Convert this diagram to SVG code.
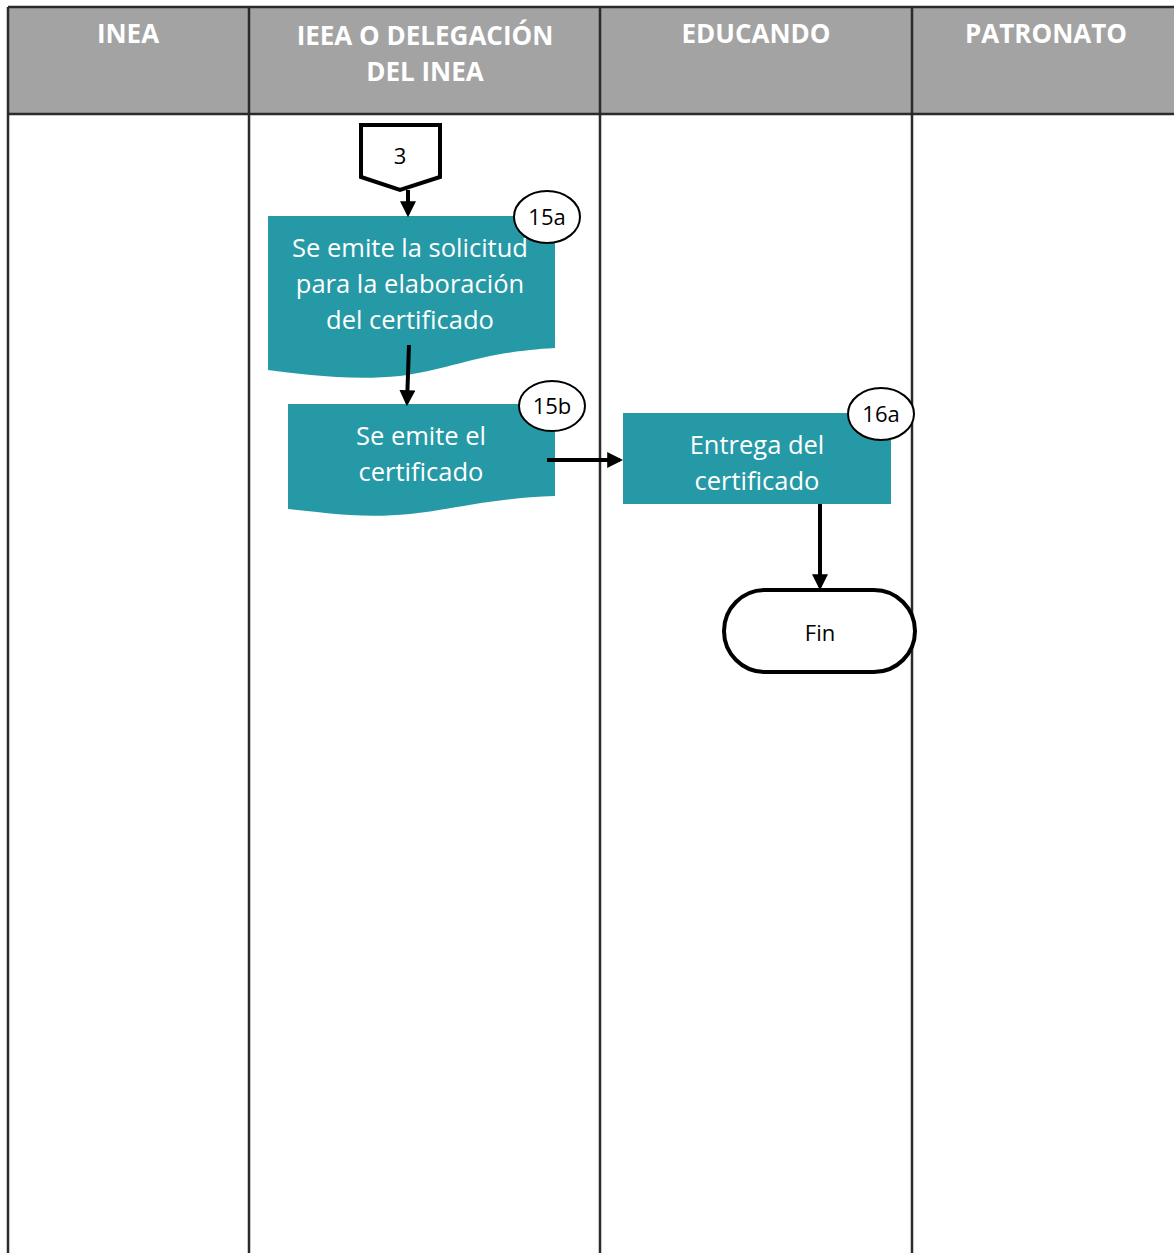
<svg xmlns="http://www.w3.org/2000/svg" width="1174" height="1253" viewBox="0 0 1174 1253">
<defs>
<style>
.hdr{font-family:"Open Sans","Liberation Sans",sans-serif;font-weight:bold;font-size:26px;fill:#fff;text-anchor:middle}
.nt{font-family:"Open Sans","Liberation Sans",sans-serif;font-size:25.5px;fill:#fff;text-anchor:middle}
.bt{font-family:"Open Sans","Liberation Sans",sans-serif;font-size:22px;fill:#000;text-anchor:middle}
.proc{fill:#2699a6}
.badge{fill:#fff;stroke:#000;stroke-width:2}
.conn{stroke:#000;stroke-width:4;fill:none;marker-end:url(#ah)}
.lane{stroke:#2b2b2b;stroke-width:2.5}
</style>
<marker id="ah" markerWidth="4" markerHeight="4" refX="3.2" refY="2" orient="auto" markerUnits="strokeWidth">
<path d="M0,0 L4,2 L0,4 Z" fill="#000"/>
</marker>
</defs>
<rect width="1174" height="1253" fill="#fff"/>
<g id="table">
<rect x="8" y="7" width="1166" height="107" fill="#a3a3a3"/>
<line class="lane" x1="8" y1="7" x2="1174" y2="7"/>
<line class="lane" x1="8" y1="114" x2="1174" y2="114"/>
<line class="lane" x1="8" y1="7" x2="8" y2="1253"/>
<line class="lane" x1="249" y1="7" x2="249" y2="1253"/>
<line class="lane" x1="600" y1="7" x2="600" y2="1253"/>
<line class="lane" x1="912" y1="7" x2="912" y2="1253"/>
<text class="hdr" x="128" y="43">INEA</text>
<text class="hdr" x="425" y="45">IEEA O DELEGACIÓN</text>
<text class="hdr" x="425" y="81">DEL INEA</text>
<text class="hdr" x="756" y="43">EDUCANDO</text>
<text class="hdr" x="1046" y="43">PATRONATO</text>
</g>
<g id="n3">
<path d="M361,125 L440,125 L440,177 L400,190 L361,177 Z" fill="#fff" stroke="#000" stroke-width="4" stroke-linejoin="miter"/>
<text class="bt" x="400" y="164">3</text>
</g>
<g id="n15a">
<path class="proc" d="M268,216 L555,216 L555,348 C480,352 450,370 400,376 C350,381 300,374 268,370 Z"/>
<text class="nt" x="410" y="257">Se emite la solicitud</text>
<text class="nt" x="410" y="293">para la elaboración</text>
<text class="nt" x="410" y="329">del certificado</text>
<ellipse class="badge" cx="547" cy="217" rx="33" ry="26"/>
<text class="bt" x="547" y="225">15a</text>
</g>
<g id="n15b">
<path class="proc" d="M288,404 L555,404 L555,496 C490,498 450,510 410,514 C360,519 320,512 288,509 Z"/>
<text class="nt" x="421" y="445">Se emite el</text>
<text class="nt" x="421" y="481">certificado</text>
<ellipse class="badge" cx="552" cy="406" rx="33" ry="25"/>
<text class="bt" x="552" y="414">15b</text>
</g>
<g id="n16a">
<rect class="proc" x="623" y="413" width="268" height="91"/>
<text class="nt" x="757" y="454">Entrega del</text>
<text class="nt" x="757" y="490">certificado</text>
<ellipse class="badge" cx="881" cy="414" rx="33" ry="26"/>
<text class="bt" x="881" y="422">16a</text>
</g>
<g id="fin">
<rect x="724" y="590" width="191" height="82" rx="41" ry="41" fill="#fff" stroke="#000" stroke-width="4"/>
<text class="bt" x="820" y="641">Fin</text>
</g>
<g id="connectors">
<line class="conn" x1="408" y1="190" x2="408" y2="214"/>
<line class="conn" x1="409" y1="345" x2="407" y2="403"/>
<line class="conn" x1="547" y1="460" x2="620" y2="460"/>
<line class="conn" x1="820" y1="504" x2="820" y2="587"/>
</g>
</svg>
